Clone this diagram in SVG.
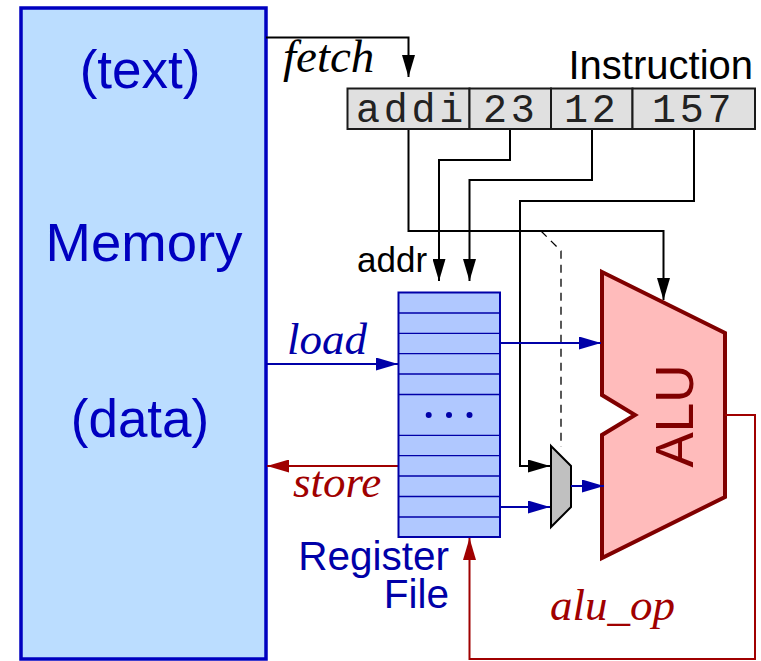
<svg xmlns="http://www.w3.org/2000/svg" width="761" height="661" viewBox="0 0 761 661">
<style>
.s{font-family:"Liberation Sans",Arial,sans-serif}
.t{font-family:"Liberation Serif","Times New Roman",serif;font-style:italic}
.m{font-family:"Liberation Mono","Courier New",monospace;font-size:40px;letter-spacing:3.75px;fill:#222}
.k,.b,.r{fill:none;stroke-linejoin:miter}
.k{stroke:#000;stroke-width:2}
.b{stroke:#0000a8;stroke-width:2}
.r{stroke:#a00000;stroke-width:2}
.row{stroke:#0000a8;stroke-width:1.3}
.cell{fill:#e0e0e0;stroke:#1a1a1a;stroke-width:2}
</style>
<defs>
<marker id="ak" markerUnits="userSpaceOnUse" markerWidth="22" markerHeight="13" refX="22" refY="6.5" orient="auto"><path d="M0,0L22,6.5L0,13Z" fill="#000"/></marker>
<marker id="ab" markerUnits="userSpaceOnUse" markerWidth="22" markerHeight="13" refX="22" refY="6.5" orient="auto"><path d="M0,0L22,6.5L0,13Z" fill="#0000a8"/></marker>
<marker id="ar" markerUnits="userSpaceOnUse" markerWidth="22" markerHeight="13" refX="22" refY="6.5" orient="auto"><path d="M0,0L22,6.5L0,13Z" fill="#a00000"/></marker>
</defs>
<g id="memory">
<rect x="21" y="8" width="245" height="651" fill="#bbddff" stroke="#0000c0" stroke-width="3.5"/>
<g class="s" fill="#0000c0" text-anchor="middle">
<text x="140" y="88" font-size="53">(text)</text>
<text x="144" y="261" font-size="54.5">Memory</text>
<text x="140" y="437" font-size="53">(data)</text>
</g>
</g>
<g id="alu">
<path d="M602,272L725,333L725,497L602,558L602,435L635,415L602,395Z" fill="#ffbbbb" stroke="#800000" stroke-width="4"/>
<text class="s" transform="translate(692.5,467.5) rotate(-90)" font-size="53" fill="#800000">ALU</text>
</g>
<g id="mux">
<path d="M551,446L571,466L571,507L551,527Z" fill="#c0c0c0" stroke="#000" stroke-width="2"/>
</g>
<g id="connectors">
<path class="k" d="M266,37.5H408.5V77" marker-end="url(#ak)"/>
<path class="k" d="M408.5,129V231H663.5V300" marker-end="url(#ak)"/>
<path class="k" d="M510,129V160H439V281" marker-end="url(#ak)"/>
<path class="k" d="M592,129V180H469.5V281" marker-end="url(#ak)"/>
<path class="k" d="M694,129V201H520V466H550" marker-end="url(#ak)"/>
<path d="M541,231L561,251V447" fill="none" stroke="#000" stroke-width="1.3" stroke-dasharray="8,6"/>
<path class="b" d="M266,364H398" marker-end="url(#ab)"/>
<path class="b" d="M500,343H601" marker-end="url(#ab)"/>
<path class="b" d="M500,507H550" marker-end="url(#ab)"/>
<path class="b" d="M571,486H604" marker-end="url(#ab)"/>
<path class="r" d="M398,466H267" marker-end="url(#ar)"/>
<path class="r" d="M725,415H755V659H469.5V538" marker-end="url(#ar)"/>
</g>
<g id="instruction">
<rect class="cell" x="347.5" y="88.5" width="122" height="40.5"/>
<rect class="cell" x="469.5" y="88.5" width="81.5" height="40.5"/>
<rect class="cell" x="551" y="88.5" width="81.5" height="40.5"/>
<rect class="cell" x="632.5" y="88.5" width="122.5" height="40.5"/>
<text class="m" x="356" y="122">addi</text>
<text class="m" x="483" y="122">23</text>
<text class="m" x="564" y="122">12</text>
<text class="m" x="652" y="122">157</text>
<text class="s" x="568.5" y="79" font-size="40" fill="#000">Instruction</text>
</g>
<g id="register-file">
<rect x="398.5" y="292.5" width="101.5" height="244.5" fill="#b0c8ff" stroke="#0000a8" stroke-width="2"/>
<path class="row" d="M398,313H500M398,333.3H500M398,353.7H500M398,374H500M398,394.5H500M398,435.3H500M398,455.7H500M398,476H500M398,496.5H500M398,517H500"/>
<circle cx="428.7" cy="415" r="3" fill="#0000a8"/>
<circle cx="449" cy="415" r="3" fill="#0000a8"/>
<circle cx="469.5" cy="415" r="3" fill="#0000a8"/>
<g class="s" fill="#0000a8" font-size="40.5" text-anchor="end">
<text x="449" y="570">Register</text>
<text x="449" y="608">File</text>
</g>
</g>
<text class="s" x="357" y="272" font-size="35" fill="#000">addr</text>
<g class="t">
<text x="283" y="72" font-size="47" fill="#000">fetch</text>
<text x="287" y="354" font-size="45" fill="#0000a8">load</text>
<text x="293" y="497" font-size="45" fill="#a00000">store</text>
<text x="550" y="620" font-size="45" fill="#a00000">alu_op</text>
</g>
</svg>
